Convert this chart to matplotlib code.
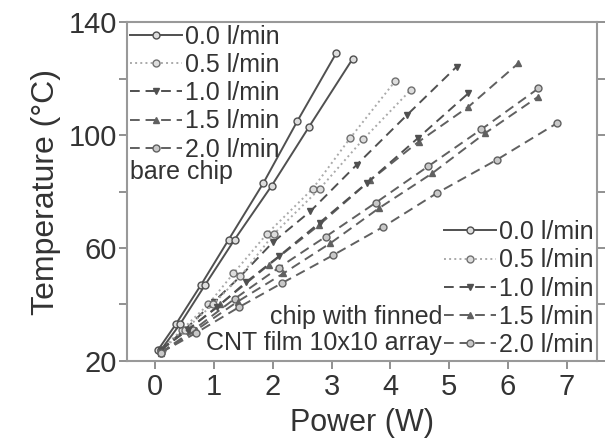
import matplotlib.pyplot as plt

plt.rcParams['font.family'] = ['Liberation Sans', 'DejaVu Sans']

# flow rates in legend
flow_labels = ["0.0 l/min", "0.5 l/min", "1.0 l/min", "1.5 l/min", "2.0 l/min"]

# bare chip: power (W) vs temperature (C)
bare_p = [
    [0.05, 0.35, 0.78, 1.25, 1.84, 2.42, 3.08],
    [0.1, 0.45, 0.9, 1.33, 1.9, 2.68, 3.32, 4.08],
    [0.1, 0.5, 1.0, 1.45, 2.0, 2.64, 3.43, 4.28, 5.13],
    [0.1, 0.55, 1.1, 1.93, 2.78, 3.66, 4.48, 5.33, 6.18],
    [0.1, 0.65, 1.35, 2.1, 2.9, 3.75, 4.65, 5.55, 6.52],
]
bare_t = [
    [24, 33, 47, 63, 83, 105, 129],
    [24, 31, 40, 51, 65, 81, 99, 119],
    [24, 31, 41, 50, 62, 73, 89.5, 107, 124.2],
    [24, 31, 40, 54, 68, 84, 97.6, 110, 125.4],
    [23, 31, 42, 53, 64, 76, 89, 102, 116.5],
]

# chip with finned CNT film 10x10 array
cnt_p = [
    [0.1, 0.42, 0.85, 1.35, 1.98, 2.62, 3.36],
    [0.12, 0.5, 0.98, 1.45, 2.02, 2.8, 3.54, 4.35],
    [0.1, 0.55, 1.05, 1.55, 2.1, 2.8, 3.6, 4.47, 5.33],
    [0.1, 0.7, 1.4, 2.18, 2.98, 3.8, 4.71, 5.61, 6.52],
    [0.1, 0.7, 1.42, 2.15, 3.03, 3.88, 4.79, 5.81, 6.83],
]
cnt_t = [
    [24, 33, 47, 63, 82, 103, 127],
    [24, 31, 40, 50, 65, 81, 98.5, 116],
    [24, 31, 39, 48, 57, 69, 83, 98.9, 114.8],
    [23, 31, 41, 51, 61.7, 74, 86.4, 100.6, 113.6],
    [23, 30, 39, 47.5, 57.5, 67.5, 79.4, 91.2, 104.1],
]

y_major = [20, 60, 100, 140]
y_minor = [40, 80, 120]
x_ticks = [0, 1, 2, 3, 4, 5, 6, 7]

# line styles per flow rate
styles = [
    dict(color='#505050', linestyle='-', marker='o', mfc='#dddddd', mec='#505050'),
    dict(color='#aaaaaa', linestyle=':', marker='o', mfc='#dddddd', mec='#707070'),
    dict(color='#505050', linestyle=(0, (5, 3)), marker='v', mfc='#505050', mec='#505050'),
    dict(color='#606060', linestyle=(0, (5, 3)), marker='^', mfc='#606060', mec='#606060'),
    dict(color='#606060', linestyle=(0, (5, 3)), marker='o', mfc='#c8c8c8', mec='#606060'),
]

fig = plt.figure(figsize=(6.05, 4.46), dpi=100)
ax = fig.add_axes([0.21, 0.1906, 0.777, 0.760])

bare_lines = []
cnt_lines = []
for i in range(5):
    l, = ax.plot(bare_p[i], bare_t[i], lw=1.4, ms=5, mew=1.0, label=flow_labels[i], **styles[i])
    bare_lines.append(l)
for i in range(5):
    l, = ax.plot(cnt_p[i], cnt_t[i], lw=1.4, ms=5, mew=1.0, label=flow_labels[i], **styles[i])
    cnt_lines.append(l)

ax.set_xlim(-0.48, 7.52)
ax.set_ylim(20, 140)
ax.set_xticks(x_ticks)
ax.set_yticks(y_major)
ax.set_yticks(y_minor, minor=True)

for s in ax.spines.values():
    s.set_color('#999999')
    s.set_linewidth(1.5)

ax.tick_params(axis='both', which='both', direction='out', colors='#888888',
               labelcolor='#333333', labelsize=21, width=1.3, pad=1)
ax.tick_params(axis='y', which='both', length=6, right=True)
ax.tick_params(axis='x', which='major', length=6, pad=3)

ax.set_ylabel("Temperature (\u00b0C)", fontsize=23, color='#333333', labelpad=6)
ax.set_xlabel("Power (W)", fontsize=22, color='#333333', labelpad=5)

leg1 = ax.legend(handles=bare_lines, loc='upper left', bbox_to_anchor=(0.0, 1.0),
                 frameon=False, fontsize=18, handlelength=2.1, handletextpad=0.1,
                 labelspacing=0.17, borderpad=0.0, borderaxespad=0.1)
for t in leg1.get_texts():
    t.set_color('#333333')
ax.add_artist(leg1)

leg2 = ax.legend(handles=cnt_lines, loc='lower right', bbox_to_anchor=(1.0, 0.0),
                 frameon=False, fontsize=18, handlelength=2.1, handletextpad=0.1,
                 labelspacing=0.17, borderpad=0.0, borderaxespad=0.15)
for t in leg2.get_texts():
    t.set_color('#333333')

ax.text(0.006, 0.558, "bare chip", transform=ax.transAxes, fontsize=18,
        color='#333333', ha='left', va='center')
ax.text(0.670, 0.130, "chip with finned", transform=ax.transAxes, fontsize=18,
        color='#333333', ha='right', va='center')
ax.text(0.670, 0.053, "CNT film 10x10 array", transform=ax.transAxes, fontsize=18,
        color='#333333', ha='right', va='center')

plt.savefig("out.png", dpi=100)
